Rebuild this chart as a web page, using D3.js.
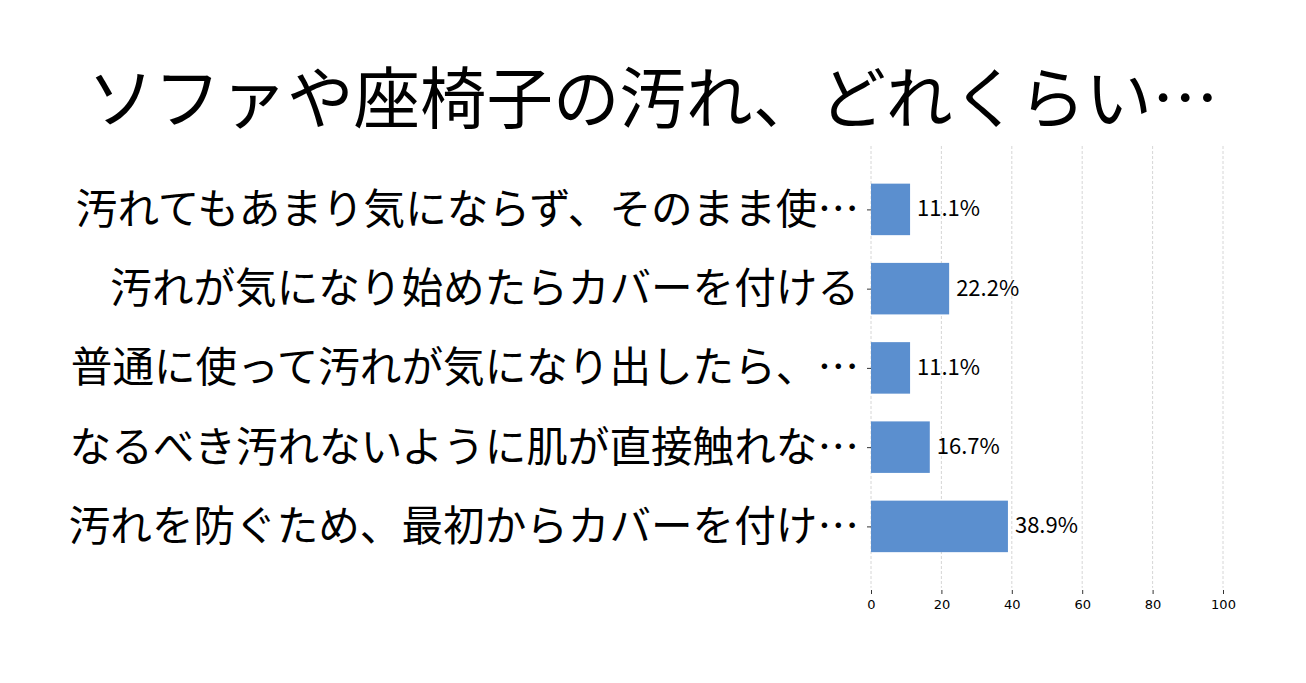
<!DOCTYPE html>
<html>
<head>
<meta charset="utf-8">
<script src="https://cdn.jsdelivr.net/npm/d3@7"></script>
<style>
  body { margin: 0; background: #fff; }
</style>
</head>
<body>
<svg id="chart" width="1306" height="683"></svg>
<script>
"use strict";

//// data
const title = "ソファや座椅子の汚れ、どれくらい…";
const categories = [
    "汚れてもあまり気にならず、そのまま使…",
    "汚れが気になり始めたらカバーを付ける",
    "普通に使って汚れが気になり出したら、…",
    "なるべき汚れないように肌が直接触れな…",
    "汚れを防ぐため、最初からカバーを付け…"
];
const percents = [11.1, 22.2, 11.1, 16.7, 38.9];
const xTicks = [0, 20, 40, 60, 80, 100];

(function () {
    const svg = d3.select("#chart");
    const cjk = "'Noto Sans CJK JP', 'Noto Sans', sans-serif";

    svg.append("rect")
        .attr("width", 1306).attr("height", 683)
        .attr("fill", "#fff");

    //// scales
    const x = d3.scaleLinear().domain([0, 100]).range([871, 1223]);
    const y = d3.scaleLinear().domain([-0.8, 4.8]).range([146, 589.8]);
    const barH = 0.65 * (y(1) - y(0));

    //// title
    svg.append("text")
        .attr("x", 653).attr("y", 94)
        .attr("text-anchor", "middle")
        .attr("dominant-baseline", "central")
        .style("font-family", cjk)
        .style("font-size", "66.5px")
        .attr("fill", "#000")
        .text(title);

    //// grid lines
    svg.append("g")
        .selectAll("line")
        .data(xTicks)
        .enter().append("line")
            .attr("x1", d => x(d)).attr("x2", d => x(d))
            .attr("y1", y.range()[0]).attr("y2", y.range()[1] - 2)
            .attr("stroke", "#cccccc")
            .attr("stroke-width", 0.8)
            .attr("stroke-dasharray", "3,2");

    //// bars
    svg.append("g")
        .selectAll("rect")
        .data(percents)
        .enter().append("rect")
            .attr("x", x(0))
            .attr("y", (d, i) => y(i) - barH / 2)
            .attr("width", d => x(d) - x(0))
            .attr("height", barH)
            .attr("fill", "#5b8fcf");

    //// value labels
    svg.append("g")
        .selectAll("text")
        .data(percents)
        .enter().append("text")
            .attr("x", d => x(d) + 7)
            .attr("y", (d, i) => y(i) - 3)
            .attr("dominant-baseline", "central")
            .style("font-family", cjk)
            .style("font-size", "22px")
            .attr("fill", "#000")
            .text(d => d.toFixed(1) + "%");

    //// y axis (category labels)
    const yAxis = svg.append("g")
        .attr("transform", "translate(" + x(0) + ",0)")
        .call(d3.axisLeft(y)
            .tickValues(d3.range(categories.length))
            .tickSize(4)
            .tickPadding(8)
            .tickFormat(i => categories[i]));
    yAxis.select(".domain").remove();
    yAxis.selectAll(".tick line").attr("stroke", "#000").attr("stroke-width", 0.8);
    yAxis.selectAll(".tick text")
        .attr("dy", "-4px")
        .attr("dominant-baseline", "central")
        .style("font-family", cjk)
        .style("font-size", "41.6px")
        .attr("fill", "#000");

    //// x axis
    const xAxis = svg.append("g")
        .attr("transform", "translate(0," + 590 + ")")
        .call(d3.axisBottom(x)
            .tickValues(xTicks)
            .tickSize(4)
            .tickPadding(6));
    xAxis.select(".domain").remove();
    xAxis.selectAll(".tick line").attr("stroke", "#000").attr("stroke-width", 0.8);
    xAxis.selectAll(".tick text")
        .style("font-family", "'DejaVu Sans', sans-serif")
        .style("font-size", "13px")
        .attr("fill", "#000");
})();
</script>
</body>
</html>
